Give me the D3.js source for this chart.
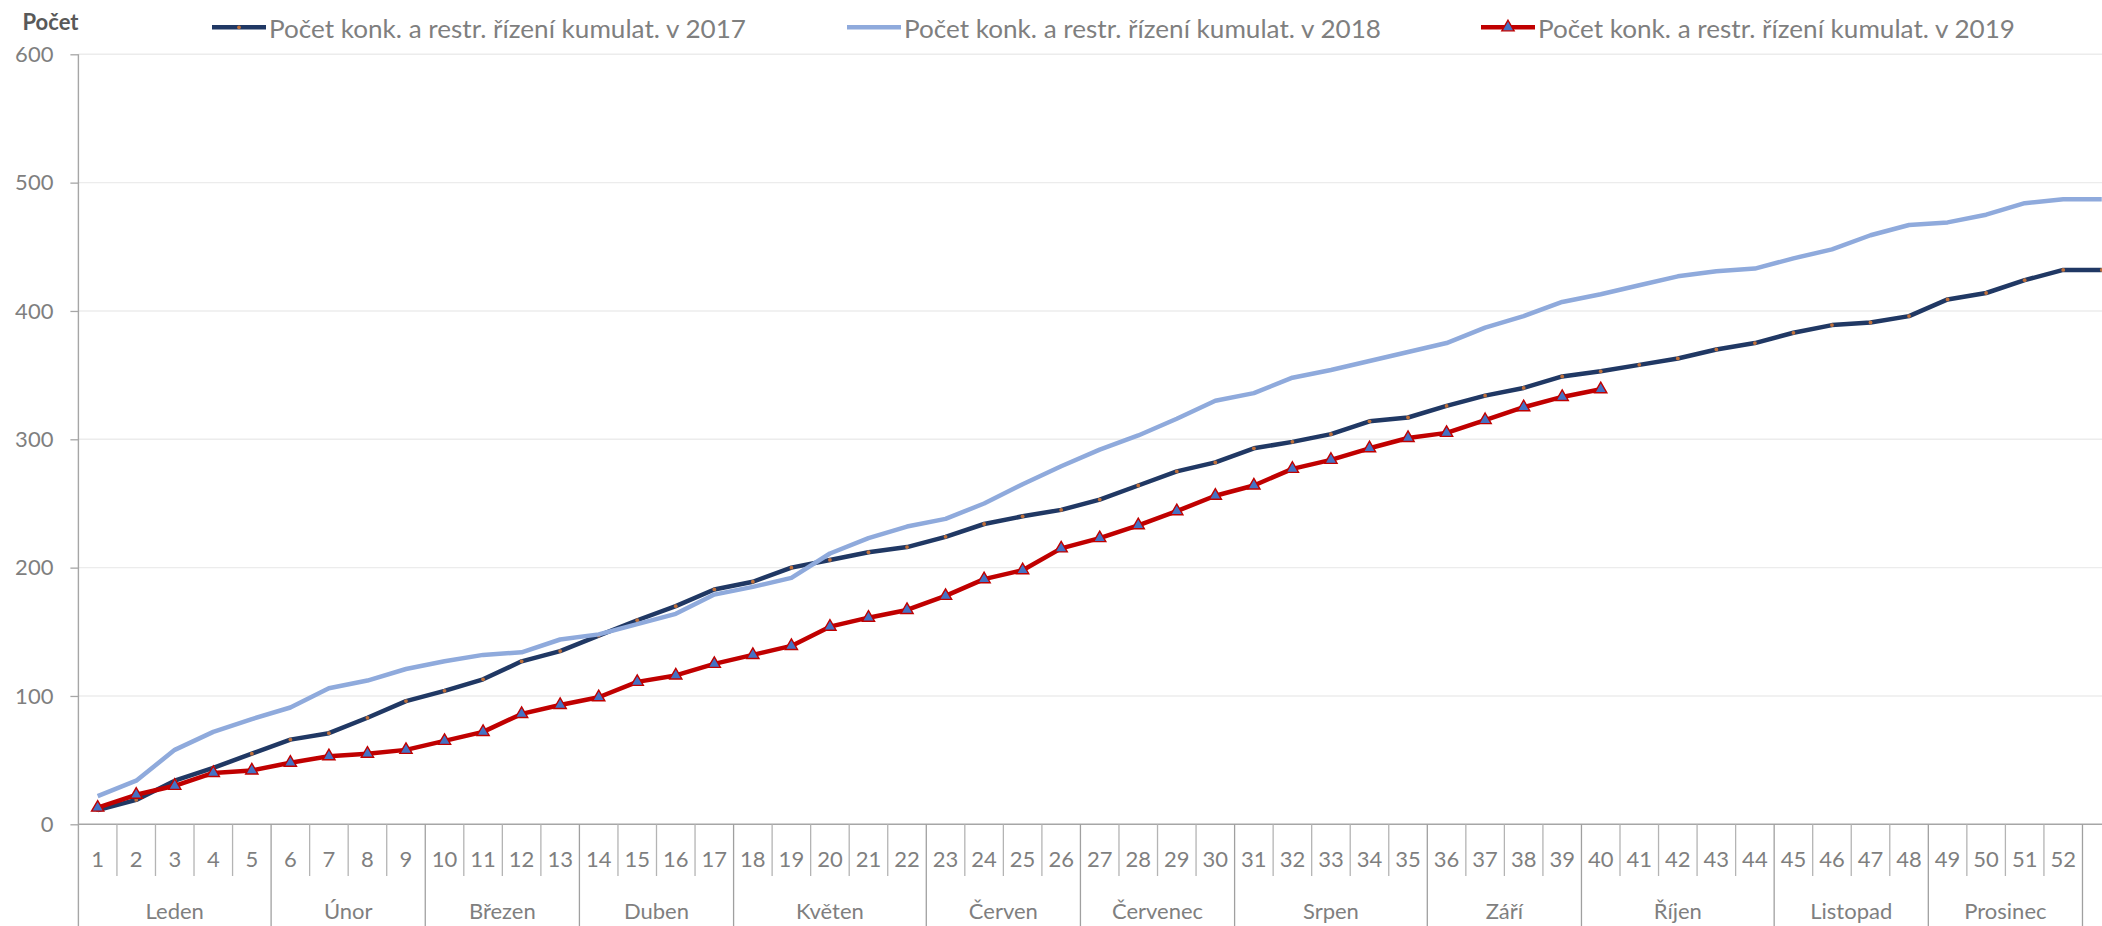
<!DOCTYPE html>
<html><head><meta charset="utf-8">
<script src="https://cdn.jsdelivr.net/npm/d3@7"></script>
<style>
body{margin:0;background:#fff;}
svg{display:block;font-family:Lato,"Open Sans",sans-serif;}
</style>
</head><body>
<svg id="chart" width="2102" height="926"></svg>
<script>
// ---- data ----
const weeks = [1,2,3,4,5,6,7,8,9,10,11,12,13,14,15,16,17,18,19,20,21,22,23,24,25,26,27,28,29,30,31,32,33,34,35,36,37,38,39,40,41,42,43,44,45,46,47,48,49,50,51,52,53];
const weekLabels = ["1","2","3","4","5","6","7","8","9","10","11","12","13","14","15","16","17","18","19","20","21","22","23","24","25","26","27","28","29","30","31","32","33","34","35","36","37","38","39","40","41","42","43","44","45","46","47","48","49","50","51","52",""];
const monthNames = ["Leden","Únor","Březen","Duben","Květen","Červen","Červenec","Srpen","Září","Říjen","Listopad","Prosinec"];
const monthWeekCounts = [5,4,4,4,5,4,4,5,4,5,4,4];
const yTickValues = [0,100,200,300,400,500,600];
const seriesNames = ["Počet konk. a restr. řízení kumulat. v 2017","Počet konk. a restr. řízení kumulat. v 2018","Počet konk. a restr. řízení kumulat. v 2019"];
const values2017 = [11,19,34,44,55,66,71,83,96,104,113,127,135,147,159,170,183,189,200,206,212,216,224,234,240,245,253,264,275,282,293,298,304,314,317,326,334,340,349,353,358,363,370,375,383,389,391,396,409,414,424,432,432];
const values2018 = [22,34,58,72,82,91,106,112,121,127,132,134,144,148,156,164,179,185,192,211,223,232,238,250,265,279,292,303,316,330,336,348,354,361,368,375,387,396,407,413,420,427,431,433,441,448,459,467,469,475,484,487,487];
const values2019 = [13,23,30,40,42,48,53,55,58,65,72,86,93,99,111,116,125,132,139,154,161,167,178,191,198,215,223,233,244,256,264,277,284,293,301,305,315,325,333,339];

// ---- scales ----
const svg = d3.select("#chart");
const W = 2102, H = 926;
const x0 = 78.4, step = 38.54;
const x = d3.scaleBand().domain(weeks).range([x0, x0 + weeks.length*step]).paddingInner(0).paddingOuter(0);
const y = d3.scaleLinear().domain([0,600]).range([824.3, 54.3]);
const bw = x.bandwidth();
const cx = w => x(w) + bw/2;

const grey = "#7f7f7f";
const axisGrey = "#a6a6a6";

// gridlines
svg.append("g").selectAll("line").data(yTickValues.filter(v=>v>0)).join("line")
  .attr("x1", x0).attr("x2", W).attr("y1", d=>y(d)).attr("y2", d=>y(d))
  .attr("stroke", "#ececec").attr("stroke-width", 1.4);

// y axis
const yAxis = svg.append("g").attr("transform", `translate(${x0},0)`)
  .call(d3.axisLeft(y).tickValues(yTickValues).tickSize(8).tickPadding(17));
yAxis.select(".domain").remove();
yAxis.selectAll(".tick line").attr("stroke", axisGrey).attr("stroke-width", 1.3);
yAxis.selectAll(".tick text").attr("fill", grey).attr("font-size", 22).attr("font-family","Lato,sans-serif");
svg.append("line").attr("x1", x0).attr("x2", x0).attr("y1", y(600)).attr("y2", H)
  .attr("stroke", axisGrey).attr("stroke-width", 1.4);

// x axis line
svg.append("line").attr("x1", x0).attr("x2", W).attr("y1", y(0)).attr("y2", y(0))
  .attr("stroke", axisGrey).attr("stroke-width", 1.6);

// week labels via axis
const xAxis = svg.append("g").attr("transform", `translate(0,${y(0)})`)
  .call(d3.axisBottom(x).tickSize(0).tickPadding(27).tickFormat((d,i)=>weekLabels[i]));
xAxis.select(".domain").remove();
xAxis.selectAll(".tick text").attr("fill", grey).attr("font-size", 22).attr("font-family","Lato,sans-serif");

// month boundaries
const monthStarts = [];
let acc = 0;
monthWeekCounts.forEach(c => { monthStarts.push(acc); acc += c; });
const boundaryIdx = new Set(monthStarts.concat([acc]));

// separators
svg.append("g").selectAll("line").data(weeks.slice(1)).join("line")
  .attr("x1", d=>x(d)).attr("x2", d=>x(d))
  .attr("y1", y(0))
  .attr("y2", (d,i)=> boundaryIdx.has(i+1) ? H : 876)
  .attr("stroke", (d,i)=> boundaryIdx.has(i+1) ? "#a0a0a0" : "#b4b4b4")
  .attr("stroke-width", 1.3);

// month labels
svg.append("g").selectAll("text").data(monthNames).join("text")
  .attr("x", (d,i)=> {
    const a = weeks[monthStarts[i]], b = weeks[monthStarts[i] + monthWeekCounts[i] - 1];
    return (x(a) + x(b) + bw)/2;
  })
  .attr("y", 918.5).attr("text-anchor","middle")
  .attr("fill", grey).attr("font-size", 22).text(d=>d);

// lines
const line = d3.line().x((d,i)=>cx(weeks[i])).y(d=>y(d));
const plot = svg.append("g");
plot.append("path").datum(values2017).attr("d", line).attr("fill","none")
  .attr("stroke","#203864").attr("stroke-width",4.5).attr("stroke-linejoin","round");
plot.selectAll(".m17").data(values2017).join("circle").attr("class","m17")
  .attr("cx",(d,i)=>cx(weeks[i])).attr("cy",d=>y(d)).attr("r",1.9).attr("fill","#c0703a");
plot.append("path").datum(values2018).attr("d", line).attr("fill","none")
  .attr("stroke","#8faadc").attr("stroke-width",4.5).attr("stroke-linejoin","round");
plot.append("path").datum(values2019).attr("d", line).attr("fill","none")
  .attr("stroke","#c00000").attr("stroke-width",4.5).attr("stroke-linejoin","round");
const tri = d3.symbol().type(d3.symbolTriangle).size(65);
plot.selectAll(".m19").data(values2019).join("path").attr("class","m19")
  .attr("transform",(d,i)=>`translate(${cx(weeks[i])},${y(d)})`)
  .attr("d", tri).attr("fill","#4472c4").attr("stroke","#c00000").attr("stroke-width",1.4);

// title
svg.append("text").attr("x", 22.5).attr("y", 29.5).attr("font-weight","bold")
  .attr("font-size", 22).attr("fill","#595959").text("Počet");

// legend
const legendX = [212, 847, 1481];
const legendColors = ["#203864","#8faadc","#c00000"];
const lg = svg.append("g");
seriesNames.forEach((name,i)=>{
  const g = lg.append("g").attr("transform",`translate(${legendX[i]},27.3)`);
  g.append("line").attr("x1",0).attr("x2",54).attr("y1",0).attr("y2",0)
    .attr("stroke",legendColors[i]).attr("stroke-width",4.5);
  if(i===0) g.append("circle").attr("cx",27).attr("cy",0).attr("r",1.9).attr("fill","#c0703a");
  if(i===2) g.append("path").attr("transform","translate(27,0)").attr("d",tri)
    .attr("fill","#4472c4").attr("stroke","#c00000").attr("stroke-width",1.4);
  g.append("text").attr("x",57).attr("y",10.5).attr("font-size",25).attr("fill",grey)
    .attr("textLength",477).attr("lengthAdjust","spacingAndGlyphs").text(name);
});
</script>
</body></html>
